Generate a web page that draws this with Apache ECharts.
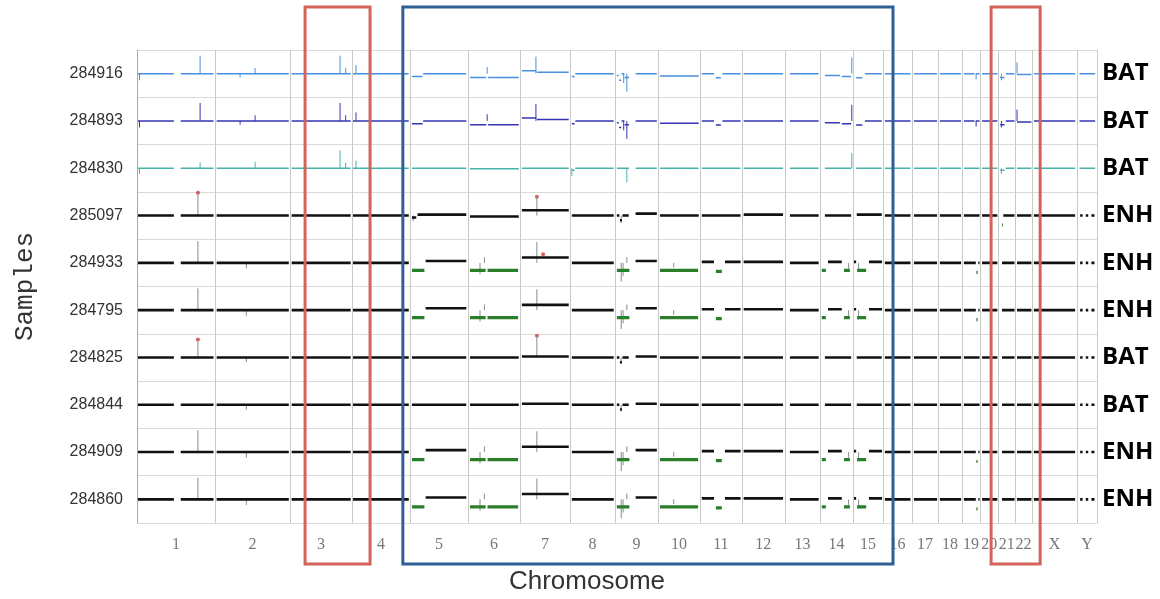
<!DOCTYPE html>
<html>
<head>
<meta charset="utf-8">
<script src="https://cdn.jsdelivr.net/npm/echarts@6/dist/echarts.min.js"></script>
<style>
  html, body { margin: 0; padding: 0; background: #fff; }
  #cnvChart { width: 1160px; height: 599px; }
</style>
</head>
<body>
<div id="cnvChart"></div>
<script>
// chromosome lengths (Mb)
const chromNames = ['1', '2', '3', '4', '5', '6', '7', '8', '9', '10', '11', '12', '13', '14', '15', '16', '17', '18', '19', '20', '21', '22', 'X', 'Y']
const chromLengths = [250, 240, 198, 186, 186, 166, 160, 144, 138, 134, 134, 138, 112, 106, 96, 93, 83, 77, 58, 58, 54, 54, 144, 64]

const sampleIds = ['284916', '284893', '284830', '285097', '284933', '284795', '284825', '284844', '284909', '284860']
const sampleTypes = ['BAT', 'BAT', 'BAT', 'ENH', 'ENH', 'ENH', 'BAT', 'BAT', 'ENH', 'ENH']
const traceColors = ['#4a8fe0', '#3535b5', '#46b3aa', '#111', '#111', '#111', '#111', '#111', '#111', '#111']

// segments: [chrom, startMb, endMb, log2]
const batBlueSeg = [
  ['1', 3, 118, 0], ['1', 140, 245, 0], ['2', 5, 236, 0], ['3', 5, 194, 0], ['4', 3, 182, 0],
  ['5', 6, 40, -0.15], ['5', 42, 180, 0], ['6', 6, 58, -0.2], ['6', 64, 162, -0.2],
  ['7', 6, 52, 0.15], ['7', 54, 156, 0.08], ['8', 6, 15, -0.15], ['8', 17, 140, 0],
  ['9', 6, 12, -0.1], ['9', 13, 20, -0.35], ['9', 21, 30, 0], ['9', 31, 45, -0.2], ['9', 66, 134, 0],
  ['10', 6, 130, -0.12], ['11', 6, 45, 0], ['11', 51, 67, -0.22], ['11', 72, 130, 0],
  ['12', 6, 132, 0], ['13', 16, 108, 0], ['14', 16, 64, -0.1], ['14', 70, 100, -0.15],
  ['15', 10, 30, -0.22], ['15', 38, 92, 0], ['16', 6, 88, 0], ['17', 6, 80, 0], ['18', 6, 74, 0],
  ['19', 6, 40, 0], ['19', 44, 56, 0], ['20', 6, 55, 0], ['21', 6, 20, -0.2], ['21', 24, 52, 0],
  ['22', 6, 52, -0.05], ['X', 6, 138, 0], ['Y', 8, 58, 0]
]
const batTealSeg = [
  ['1', 3, 118, 0], ['1', 140, 245, 0], ['2', 5, 236, 0], ['3', 5, 194, 0], ['4', 3, 182, 0],
  ['5', 6, 180, 0], ['6', 6, 162, -0.03], ['7', 6, 156, 0], ['8', 6, 15, -0.1], ['8', 17, 140, 0],
  ['9', 6, 45, 0], ['9', 66, 134, 0], ['10', 6, 130, 0], ['11', 6, 130, 0], ['12', 6, 132, 0],
  ['13', 16, 108, 0], ['14', 16, 100, 0], ['15', 10, 92, 0], ['16', 6, 88, 0], ['17', 6, 80, 0],
  ['18', 6, 74, 0], ['19', 6, 56, 0], ['20', 6, 55, 0], ['21', 6, 20, -0.1], ['21', 24, 52, 0],
  ['22', 6, 52, 0], ['X', 6, 138, 0], ['Y', 8, 58, 0]
]
const normalSeg = [
  ['1', 3, 118, 0], ['1', 140, 245, 0], ['2', 5, 236, 0], ['3', 5, 194, 0], ['4', 3, 182, 0],
  ['5', 6, 180, 0], ['6', 6, 162, 0], ['7', 6, 156, 0.05], ['8', 6, 140, 0],
  ['9', 6, 14, 0], ['9', 16, 22, -0.25], ['9', 24, 44, 0], ['9', 66, 134, 0.05],
  ['10', 6, 130, 0], ['11', 6, 130, 0], ['12', 6, 132, 0], ['13', 16, 108, 0], ['14', 16, 100, 0],
  ['15', 12, 92, 0], ['16', 6, 88, 0], ['17', 6, 80, 0], ['18', 6, 74, 0], ['19', 6, 56, 0],
  ['20', 6, 55, 0], ['21', 12, 52, 0], ['22', 6, 52, 0], ['X', 6, 138, 0],
  ['Y', 10, 18, 0], ['Y', 28, 36, 0], ['Y', 46, 56, 0]
]
const raisedSeg = [
  ['1', 3, 118, 0], ['1', 140, 245, 0], ['2', 5, 236, 0], ['3', 5, 194, 0], ['4', 3, 182, 0],
  ['5', 6, 20, -0.1], ['5', 24, 180, 0.05], ['6', 6, 162, -0.05], ['7', 6, 156, 0.28], ['8', 6, 140, 0],
  ['9', 6, 14, 0], ['9', 16, 22, -0.25], ['9', 24, 44, 0], ['9', 66, 134, 0.1],
  ['10', 6, 130, 0], ['11', 6, 130, 0], ['12', 6, 132, 0.05], ['13', 16, 108, 0], ['14', 16, 100, 0],
  ['15', 12, 92, 0.05], ['16', 6, 88, 0], ['17', 6, 80, 0], ['18', 6, 74, 0], ['19', 6, 56, 0],
  ['20', 6, 55, 0], ['21', 16, 52, 0], ['22', 6, 52, 0], ['X', 6, 138, 0],
  ['Y', 10, 18, 0], ['Y', 28, 36, 0], ['Y', 46, 56, 0]
]
const enhSeg = [
  ['1', 3, 118, 0], ['1', 140, 245, 0], ['2', 5, 236, 0], ['3', 5, 194, 0], ['4', 3, 182, 0],
  ['5', 50, 180, 0.1], ['7', 6, 156, 0.28], ['8', 6, 140, 0], ['9', 66, 134, 0.1],
  ['11', 6, 45, 0.05], ['11', 80, 130, 0.05], ['12', 6, 132, 0.05], ['13', 16, 108, 0],
  ['14', 26, 70, 0.05], ['15', 3, 10, 0.05], ['15', 51, 93, 0.05], ['16', 6, 88, 0], ['17', 6, 80, 0],
  ['18', 6, 74, 0], ['19', 6, 44, 0], ['19', 52, 56, 0], ['20', 6, 55, 0], ['21', 12, 52, 0],
  ['22', 6, 52, 0], ['X', 6, 138, 0], ['Y', 10, 18, 0], ['Y', 28, 36, 0], ['Y', 46, 56, 0]
]
// deletions drawn in green
const enhLoss = [
  ['5', 6, 46, -0.4], ['6', 6, 56, -0.4], ['6', 62, 160, -0.4], ['9', 6, 46, -0.4], ['10', 6, 128, -0.4],
  ['11', 51, 70, -0.45], ['14', 6, 19, -0.4], ['14', 77, 96, -0.4], ['15', 13, 42, -0.4], ['19', 46, 50, -0.5]
]
const raisedLoss = [['21', 12, 15, -0.5]]

// spikes: [chrom, posMb, log2]
const batBlueSpikes = [
  ['1', 8, -0.35], ['1', 202, 0.95], ['2', 80, -0.2], ['2', 128, 0.3], ['3', 160, 0.95], ['3', 178, 0.3],
  ['4', 13, 0.45], ['6', 61, 0.35], ['7', 51, 0.9], ['9', 28, -0.5], ['9', 38, -0.95],
  ['14', 102, 0.85], ['19', 45, -0.3], ['21', 10, -0.35], ['22', 6, 0.6]
]
const batTealSpikes = [
  ['1', 8, -0.3], ['1', 202, 0.3], ['2', 128, 0.35], ['3', 160, 0.95], ['3', 178, 0.3], ['4', 13, 0.4],
  ['8', 6, -0.4], ['9', 38, -0.75], ['14', 102, 0.8], ['21', 10, -0.3]
]
const raisedSpikes = [['1', 195, 1.2], ['7', 54, 1.0], ['9', 20, -0.4], ['5', 10, -0.3]]
const enhSpikes = [
  ['1', 195, 1.15], ['2', 100, -0.3], ['6', 38, -0.6], ['6', 52, 0.3], ['7', 54, 1.1],
  ['9', 20, -1.0], ['9', 26, -0.7], ['9', 38, 0.3], ['10', 50, -0.25], ['14', 92, -0.3], ['15', 18, -0.5]
]
const normalSpikes = [['2', 100, -0.25], ['9', 20, -0.35]]
const redSpikes = [['1', 195, 0.95], ['7', 54, 1.15], ['2', 100, -0.25], ['9', 20, -0.35]]

// red points: [chrom, posMb, log2]
const raisedRed = [['1', 195, 1.2], ['7', 54, 1.0]]
const enhRed = [['7', 74, 0.45]]
const batRed = [['1', 195, 0.95], ['7', 54, 1.15]]

const sampleSegments = [batBlueSeg, batBlueSeg, batTealSeg, raisedSeg, enhSeg, enhSeg, normalSeg, normalSeg, enhSeg, enhSeg]
const sampleLosses = [[], [], [], raisedLoss, enhLoss, enhLoss, [], [], enhLoss, enhLoss]
const sampleSpikes = [batBlueSpikes, batBlueSpikes, batTealSpikes, raisedSpikes, enhSpikes, enhSpikes, redSpikes, normalSpikes, enhSpikes, enhSpikes]
const sampleRed = [[], [], [], raisedRed, enhRed, [], batRed, [], [], []]

// highlight boxes: [fromChrom, fromMb, toChrom, toMb, colour]
const boxes = [
  ['3', 48, '4', 58, '#d4635b'],
  ['4', 163, '16', 32, '#2e6096'],
  ['20', 35, 'X', 26, '#d4635b']
]

const ROW_SCALE = 0.4
const GRID = { left: 137, right: 63, top: 50, bottom: 76, outerBoundsMode: 'none' }

const chromStart = {}
let acc = 0
chromNames.forEach((c, i) => {
  chromStart[c] = acc
  acc += chromLengths[i]
})
const genomeLength = acc
const chromCenters = chromNames.map((c, i) => chromStart[c] + chromLengths[i] / 2)

const gx = (chr, mb) => chromStart[chr] + mb
const rowY = (row, v) => sampleIds.length - row - 0.5 + v * ROW_SCALE

function segData(row, segs) {
  const out = []
  segs.forEach(s => {
    out.push([gx(s[0], s[1]), rowY(row, s[3])], [gx(s[0], s[2]), rowY(row, s[3])], null)
  })
  return out
}
function spikeData(row, spikes) {
  const out = []
  spikes.forEach(s => {
    out.push([gx(s[0], s[1]), rowY(row, 0)], [gx(s[0], s[1]), rowY(row, s[2])], null)
  })
  return out
}

const series = []
sampleIds.forEach((id, row) => {
  const black = traceColors[row] === '#111'
  series.push({
    type: 'line',
    name: id + ' spikes',
    data: spikeData(row, sampleSpikes[row]),
    symbol: 'none',
    silent: true,
    lineStyle: { color: black ? '#8a8a8a' : traceColors[row], width: 1 }
  })
  series.push({
    type: 'line',
    name: id,
    data: segData(row, sampleSegments[row]),
    symbol: 'none',
    silent: true,
    lineStyle: { color: traceColors[row], width: black ? 2.6 : 1.5 }
  })
  if (sampleLosses[row].length) {
    series.push({
      type: 'line',
      name: id + ' loss',
      data: segData(row, sampleLosses[row]),
      symbol: 'none',
      silent: true,
      lineStyle: { color: '#2b7f2b', width: 3.2 }
    })
  }
  if (sampleRed[row].length) {
    series.push({
      type: 'scatter',
      name: id + ' gain',
      data: sampleRed[row].map(p => [gx(p[0], p[1]), rowY(row, p[2])]),
      symbolSize: 4,
      silent: true,
      itemStyle: { color: '#d23a3a' }
    })
  }
})
// chromosome boundaries
series[0].markLine = {
  silent: true,
  symbol: ['none', 'none'],
  label: { show: false },
  lineStyle: { color: '#c9c9c9', width: 1, type: 'solid' },
  data: chromNames.slice(1).map(c => ({ xAxis: chromStart[c] })).concat([{ xAxis: genomeLength }])
}

const chart = echarts.init(document.getElementById('cnvChart'))
chart.setOption({
  animation: false,
  grid: GRID,
  xAxis: {
    type: 'value',
    min: 0,
    max: genomeLength,
    axisLine: { show: false },
    axisTick: { show: false },
    splitLine: { show: false },
    axisLabel: {
      customValues: chromCenters,
      margin: 14,
      color: '#777',
      fontSize: 16,
      fontFamily: 'Liberation Serif',
      formatter: v => chromNames[chromCenters.indexOf(v)] || ''
    },
    name: 'Chromosome',
    nameLocation: 'middle',
    nameGap: 46,
    nameTextStyle: { fontSize: 26, color: '#333', fontFamily: 'Liberation Sans', padding: [0, 60, 0, 0] }
  },
  yAxis: [
    {
      type: 'value',
      min: 0,
      max: sampleIds.length,
      interval: 1,
      axisLine: { show: true, lineStyle: { color: '#aaa' } },
      axisTick: { show: false },
      axisLabel: { show: false },
      splitLine: { lineStyle: { color: '#dadada', width: 1 } },
      name: 'Samples',
      nameLocation: 'middle',
      nameGap: 99,
      nameTextStyle: { fontSize: 26, color: '#333', fontFamily: 'Liberation Mono' }
    },
    {
      type: 'value',
      position: 'left',
      min: 0,
      max: sampleIds.length,
      interval: 0.5,
      axisLine: { show: false },
      axisTick: { show: false },
      splitLine: { show: false },
      axisLabel: {
        margin: 14,
        color: '#333',
        fontSize: 16,
        fontFamily: 'Liberation Sans',
        formatter: v => {
          if (Math.abs(v - Math.floor(v) - 0.5) > 1e-6) return ''
          return sampleIds[sampleIds.length - 1 - Math.floor(v)]
        }
      }
    },
    {
      type: 'value',
      position: 'right',
      min: 0,
      max: sampleIds.length,
      interval: 0.5,
      axisLine: { show: false },
      axisTick: { show: false },
      splitLine: { show: false },
      axisLabel: {
        margin: 5,
        color: '#000',
        fontSize: 24,
        fontWeight: 'bold',
        fontFamily: 'Open Sans',
        formatter: v => {
          if (Math.abs(v - Math.floor(v) - 0.5) > 1e-6) return ''
          return sampleTypes[sampleTypes.length - 1 - Math.floor(v)]
        }
      }
    }
  ],
  series: series
})

// highlight boxes, placed through the x scale
const boxTop = GRID.top - 43
const boxBottom = 599 - GRID.bottom + 41
chart.setOption({
  graphic: boxes.map(b => {
    const x1 = chart.convertToPixel({ xAxisIndex: 0 }, gx(b[0], b[1]))
    const x2 = chart.convertToPixel({ xAxisIndex: 0 }, gx(b[2], b[3]))
    return {
      type: 'rect',
      silent: true,
      z: 100,
      shape: { x: x1, y: boxTop, width: x2 - x1, height: boxBottom - boxTop },
      style: { fill: 'none', stroke: b[4], lineWidth: 3 }
    }
  })
})
</script>
</body>
</html>
